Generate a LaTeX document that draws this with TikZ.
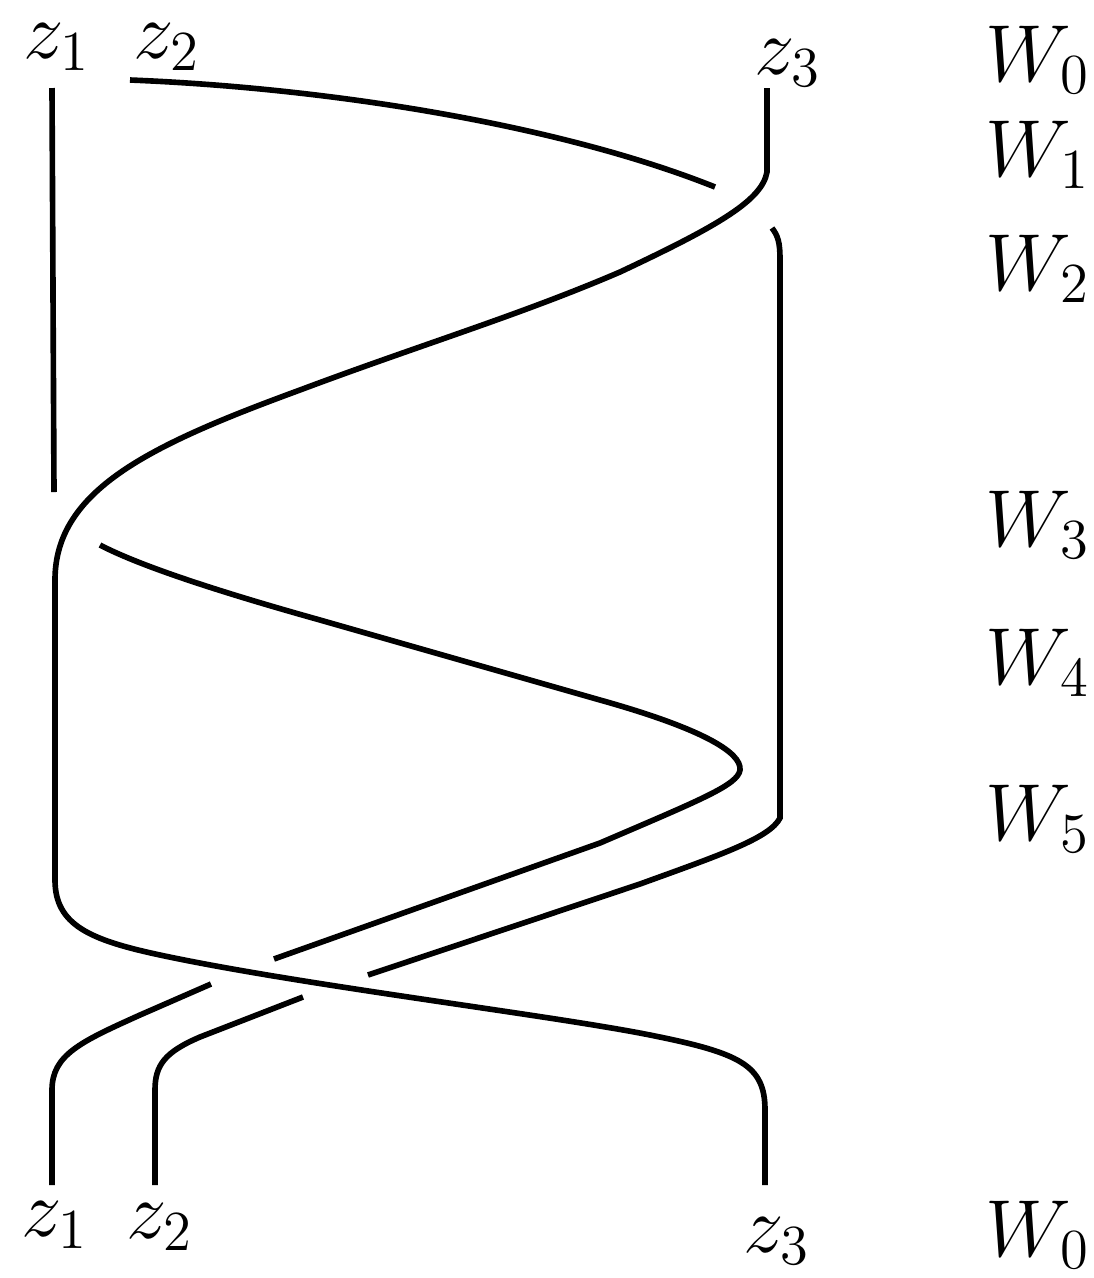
\documentclass[tikz,border=0pt]{standalone}
\usepackage{fix-cm}
\begin{document}
\begin{tikzpicture}[x=0.01cm,y=-0.01cm,
  strand/.style={line width=1.6pt},
  lab/.style={font=\fontsize{23}{27}\selectfont, inner sep=0pt, anchor=base}]
\useasboundingbox (0,0) rectangle (1093,1278);
% labels
\node[lab] (tz1) at (57,58) {$z_1$};
\node[lab] (tz2) at (167,58) {$z_2$};
\node[lab] (tz3) at (788,74) {$z_3$};
\node[lab] (w0) at (1038,81) {$W_0$};
\node[lab] (w1) at (1038,176) {$W_1$};
\node[lab] (w2) at (1038,290) {$W_2$};
\node[lab] (w3) at (1038,546) {$W_3$};
\node[lab] (w4) at (1038,684) {$W_4$};
\node[lab] (w5) at (1038,840) {$W_5$};
\node[lab] (bz1) at (55,1236) {$z_1$};
\node[lab] (bz2) at (160,1238) {$z_2$};
\node[lab] (bz3) at (777,1252) {$z_3$};
\node[lab] (bw0) at (1038,1256) {$W_0$};
% strand z3 (over)
\draw[strand] (767,88) -- (767,172)
  .. controls (762,200) and (720,225) .. (620,272)
  .. controls (520,315) and (420,345) .. (300,390)
  .. controls (150,445) and (55,490) .. (55,580)
  -- (55,880)
  .. controls (55,925) and (90,940) .. (160,955)
  .. controls (300,985) and (550,1015) .. (650,1035)
  .. controls (740,1053) and (765,1065) .. (765,1110)
  -- (765,1185);
% strand z2
\draw[strand] (130,80) .. controls (330,88) and (560,125) .. (715,187);
\draw[strand] (772,228) .. controls (778,236) and (780,242) .. (780,260)
  -- (780,818) .. controls (770,838) and (720,855) .. (640,884) -- (368,975);
\draw[strand] (303,997) -- (200,1037) .. controls (165,1052) and (155,1065) .. (155,1090) -- (155,1185);
% strand z1
\draw[strand] (52,88) -- (54,492);
\draw[strand] (100,545) .. controls (140,566) and (220,592) .. (320,620)
  -- (600,700)
  .. controls (700,728) and (742,752) .. (740,770)
  .. controls (738,785) and (700,800) .. (600,843) -- (274,959);
\draw[strand] (211,984) -- (140,1015) .. controls (80,1042) and (52,1055) .. (52,1090) -- (52,1185);
\end{tikzpicture}
\end{document}
